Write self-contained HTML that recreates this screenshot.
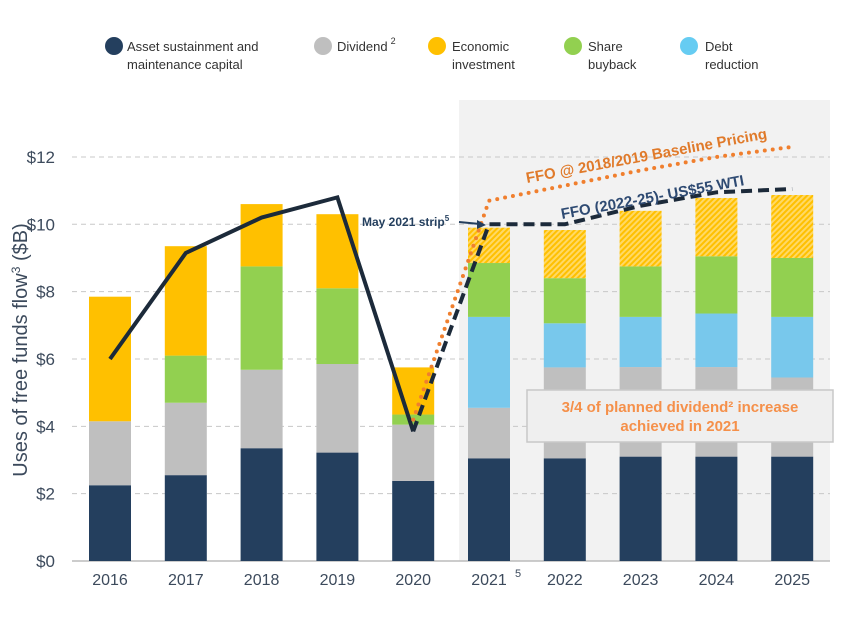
<!DOCTYPE html>
<html><head><meta charset="utf-8">
<style>
body{margin:0;background:#fff;font-family:"Liberation Sans",sans-serif}
svg text{font-family:"Liberation Sans",sans-serif}
</style></head><body>
<svg width="851" height="612" viewBox="0 0 851 612">
<defs>
<pattern id="hatch" width="4" height="4" patternUnits="userSpaceOnUse" patternTransform="rotate(45)">
<rect width="4" height="4" fill="#ffd966"/><rect width="2" height="4" fill="#ffc000"/>
</pattern>
</defs>
<g id="legend">
<g><circle cx="114" cy="46" r="9" fill="#243f5e"/><text x="127" y="51" font-size="13" fill="#333">Asset sustainment and</text><text x="127" y="69" font-size="13" fill="#333">maintenance capital</text></g>
<g><circle cx="323" cy="46" r="9" fill="#bfbfbf"/><text x="337" y="51" font-size="13" fill="#333">Dividend<tspan font-size="9" dx="3" dy="-7">2</tspan></text></g>
<g><circle cx="437" cy="46" r="9" fill="#ffc000"/><text x="452" y="51" font-size="13" fill="#333">Economic</text><text x="452" y="69" font-size="13" fill="#333">investment</text></g>
<g><circle cx="573" cy="46" r="9" fill="#92d050"/><text x="588" y="51" font-size="13" fill="#333">Share</text><text x="588" y="69" font-size="13" fill="#333">buyback</text></g>
<g><circle cx="689" cy="46" r="9" fill="#66ccf2"/><text x="705" y="51" font-size="13" fill="#333">Debt</text><text x="705" y="69" font-size="13" fill="#333">reduction</text></g>
</g>
<rect x="459" y="100" width="371" height="461" fill="#f2f2f2"/>
<g id="grid"></g>
<g id="bars"></g>
<rect x="527" y="390" width="306" height="52" fill="#efefef" stroke="#c8c8c8" stroke-width="1.5"/>
<text x="680" y="412" text-anchor="middle" font-size="15" font-weight="bold" fill="#f5904a">3/4 of planned dividend² increase</text>
<text x="680" y="431" text-anchor="middle" font-size="15" font-weight="bold" fill="#f5904a">achieved in 2021</text>
<g id="lines"></g>
<text x="362" y="226" font-size="12" font-weight="bold" fill="#243f5e">May 2021 strip<tspan font-size="8" dy="-5">5</tspan></text>
<line x1="459" y1="222" x2="480" y2="224" stroke="#243f5e" stroke-width="2"/>
<polygon points="486,225 477,220 477,229" fill="#243f5e"/>
<text x="0" y="0" font-size="15" font-weight="bold" fill="#e07a2a" transform="translate(527,183) rotate(-10.5)">FFO @ 2018/2019 Baseline Pricing</text>
<text x="0" y="0" font-size="15" font-weight="bold" fill="#2e4a72" transform="translate(562,219) rotate(-10.5)">FFO (2022-25)- US$55 WTI</text>
<text transform="translate(27,350) rotate(-90)" text-anchor="middle" font-size="20" fill="#3c4a5c">Uses of free funds flow<tspan font-size="12" dy="-7">3</tspan><tspan dy="7"> ($B)</tspan></text>
</svg>
<script>
const years=["2016","2017","2018","2019","2020","2021","2022","2023","2024","2025"];
const asset=[2.25,2.55,3.35,3.22,2.38,3.05,3.05,3.1,3.1,3.1];
const dividend=[1.9,2.15,2.33,2.63,1.67,1.5,2.7,2.66,2.66,2.35];
const debt=[0,0,0,0,0,2.7,1.31,1.49,1.59,1.8];
const buyback=[0,1.4,3.07,2.25,0.3,1.6,1.34,1.5,1.7,1.75];
const economic=[3.7,3.25,1.85,2.2,1.4,1.05,1.43,1.65,1.73,1.87];
const historicLine=[6.0,9.15,10.2,10.8,3.85];
const ffoWti=[3.85,10.0,10.0,10.55,10.95,11.05];
const ffoBase=[4.2,10.7,11.15,11.6,12.0,12.3];
const yTicks=[0,2,4,6,8,10,12];
const NS="http://www.w3.org/2000/svg";
const y0=561,pxPer=33.67,x0=110,step=75.8,bw=42;
const Y=v=>y0-v*pxPer, X=i=>x0+i*step;
function mk(tag,attrs,parent){const e=document.createElementNS(NS,tag);for(const k in attrs)e.setAttribute(k,attrs[k]);parent.appendChild(e);return e;}
const grid=document.getElementById('grid'),bars=document.getElementById('bars'),lines=document.getElementById('lines');
const svg=document.querySelector('svg');
yTicks.forEach(t=>{
  if(t>0){const l=mk('line',{x1:72,x2:830,y1:Y(t),y2:Y(t),stroke:'#c8c8c8','stroke-dasharray':'5,4'},grid);
  
  }
  const tx=mk('text',{x:55,y:Y(t)+6,'text-anchor':'end','font-size':17,fill:'#3c4a5c'},svg);
  tx.textContent='$'+t;
  
  
});
const ax=mk('line',{x1:72,x2:830,y1:y0,y2:y0,stroke:'#bbb','stroke-width':1.5},grid);


const series=[["asset",asset,"#243f5e"],["dividend",dividend,"#bfbfbf"],["debt",debt,"#66ccf2"],["buyback",buyback,"#92d050"],["economic",economic,"#ffc000"]];
years.forEach((yr,i)=>{
  let base=0;
  series.forEach(([nm,arr,col])=>{
    const v=arr[i];if(v<=0)return;
    let fill=col;
    if(i>=5&&nm==="economic")fill="url(#hatch)";
    if(i>=5&&nm==="debt")fill="#78c8ec";
    const r=mk('rect',{x:X(i)-bw/2,y:Y(base+v),width:bw,height:v*pxPer,fill:fill},bars);
    
    
    base+=v;
  });
  const t=mk('text',{x:X(i),y:585,'text-anchor':'middle','font-size':16,fill:'#3c4a5c'},svg);
  t.textContent=yr;
  
  
  if(yr==="2021"){const s=mk('text',{x:X(i)+26,y:577,'font-size':11,fill:'#3c4a5c'},svg);s.textContent='5';
  
  }
});
const hp=historicLine.map((v,i)=>X(i)+','+Y(v)).join(' ');
const h=mk('polyline',{points:hp,fill:'none',stroke:'#1c2a3a','stroke-width':4,'stroke-linejoin':'miter'},lines);


const bp=ffoBase.map((v,i)=>X(i+4)+','+Y(v)).join(' ');
const b=mk('polyline',{points:bp,fill:'none',stroke:'#f07f2e','stroke-width':4,'stroke-dasharray':'0,8','stroke-linecap':'round'},lines);


const wp=ffoWti.map((v,i)=>X(i+4)+','+Y(v)).join(' ');
const w=mk('polyline',{points:wp,fill:'none',stroke:'#1c2a3a','stroke-width':4,'stroke-dasharray':'11,6'},lines);


</script>
</body></html>
